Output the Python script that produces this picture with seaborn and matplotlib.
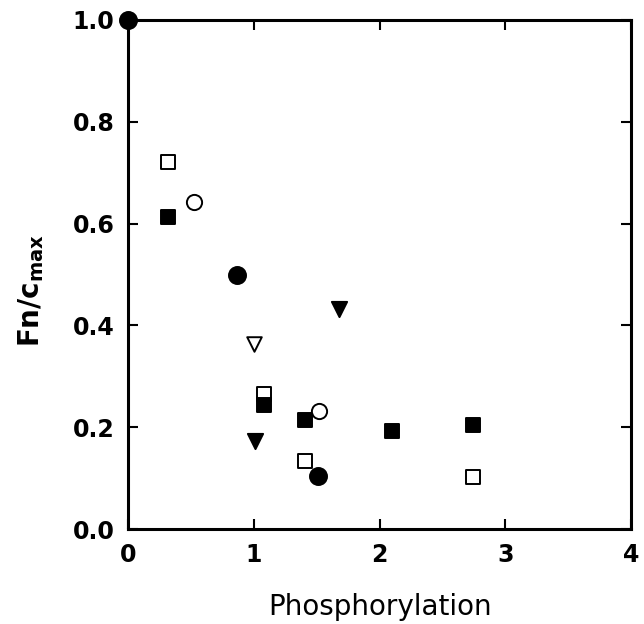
import matplotlib
matplotlib.use("Agg")
import matplotlib.pyplot as plt
import seaborn as sns
import pandas as pd

# Data
filled_circle_x = [0.0, 0.865, 1.51]
filled_circle_y = [1.0, 0.50, 0.105]
open_circle_x = [0.52, 1.52]
open_circle_y = [0.642, 0.233]
filled_square_x = [0.315, 1.08, 1.41, 2.10, 2.746]
filled_square_y = [0.613, 0.244, 0.214, 0.193, 0.204]
open_square_x = [0.315, 1.08, 1.41, 2.74]
open_square_y = [0.721, 0.265, 0.133, 0.103]
filled_tri_x = [1.005, 1.675]
filled_tri_y = [0.174, 0.433]
open_tri_x = [1.0]
open_tri_y = [0.363]

x_ticks = [0, 1, 2, 3, 4]
y_ticks = [0.0, 0.2, 0.4, 0.6, 0.8, 1.0]

sns.set_theme(style="ticks")
plt.rcParams['font.family'] = ['DejaVu Sans']

fig = plt.figure(figsize=(6.44, 6.24), dpi=100)
ax = fig.add_axes([0.199, 0.152, 0.781, 0.816])

series = [
    (open_square_x, open_square_y, 's', 'white', 90),
    (filled_square_x, filled_square_y, 's', 'black', 90),
    (filled_circle_x, filled_circle_y, 'o', 'black', 150),
    (open_circle_x, open_circle_y, 'o', 'white', 120),
    (filled_tri_x, filled_tri_y, 'v', 'black', 120),
    (open_tri_x, open_tri_y, 'v', 'white', 110),
]
for xs, ys, mk, fc, s in series:
    df = pd.DataFrame({"x": xs, "y": ys})
    sns.scatterplot(data=df, x="x", y="y", ax=ax, marker=mk, s=s,
                    facecolor=fc, edgecolor='black', linewidth=1.4,
                    clip_on=False, zorder=5, legend=False)

ax.set_xlim(0, 4)
ax.set_ylim(0, 1.0)
ax.set_xticks(x_ticks)
ax.set_yticks(y_ticks)
ax.set_xticklabels([str(t) for t in x_ticks], fontweight='bold', fontsize=17)
ax.set_yticklabels([f"{t:.1f}" for t in y_ticks], fontweight='bold', fontsize=17)
ax.tick_params(direction='in', length=7, width=1.5, top=True, right=True,
               pad=10, colors='black')
for sp in ax.spines.values():
    sp.set_linewidth(2.2)
    sp.set_color('black')
    sp.set_visible(True)

ax.set_xlabel("Phosphorylation", fontsize=20, color='black')
ax.set_ylabel(r"Fn/c$_{\mathregular{max}}$", fontsize=20, fontweight='bold', color='black')
ax.xaxis.set_label_coords(0.5, -0.125)
ax.yaxis.set_label_coords(-0.163, 0.468)

fig.savefig("out.png", dpi=100)
